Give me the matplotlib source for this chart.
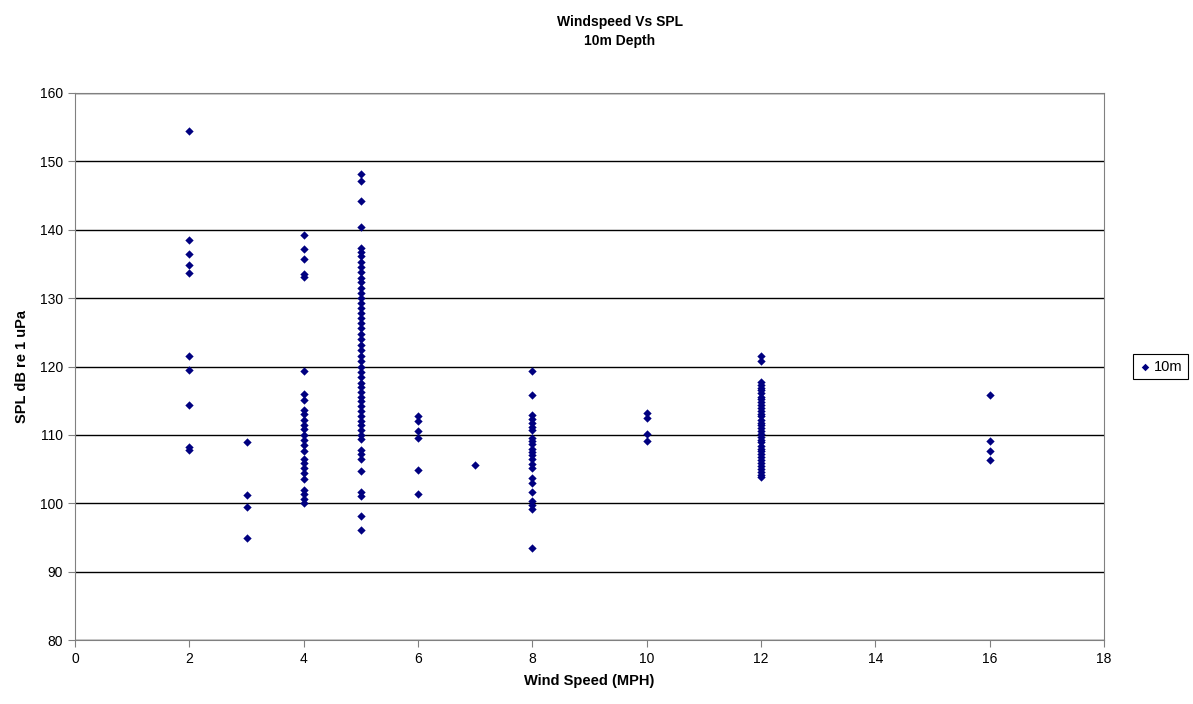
import matplotlib.pyplot as plt

plt.rcParams['font.family'] = ['Liberation Sans', 'DejaVu Sans']

# SPL readings (dB re 1 uPa) grouped by wind speed (MPH)
spl_2 = [154.5, 138.5, 136.4, 134.8, 133.7, 121.6, 119.5, 114.4, 108.3, 107.8]
spl_3 = [108.9, 101.2, 99.4, 94.9]
spl_4 = [139.3, 137.2, 135.7, 133.5, 133.1, 119.4, 116.0, 115.1, 113.7, 113.0,
         112.2, 111.5, 110.8, 110.0, 109.2, 108.5, 107.7, 106.5, 105.9, 105.2,
         104.4, 103.5, 102.0, 101.4, 100.6, 100.0]
spl_5 = [148.1, 147.1, 144.2, 140.4, 137.4, 136.8, 136.1, 135.3, 134.6, 133.8,
         133.0, 132.3, 131.5, 130.7, 130.0, 129.3, 128.6, 127.8, 127.1, 126.4,
         125.6, 124.8, 124.0, 123.2, 122.4, 121.6, 120.8, 120.0, 119.2, 118.4,
         117.6, 117.0, 116.3, 115.6, 114.9, 114.2, 113.5, 112.8, 112.1, 111.4,
         110.7, 110.0, 109.4, 107.8, 107.2, 106.5, 104.7, 101.6, 101.1, 98.1,
         96.1]
spl_6 = [112.8, 112.0, 110.6, 109.6, 104.9, 101.4]
spl_7 = [105.6]
spl_8 = [119.4, 115.8, 112.9, 112.3, 111.8, 111.2, 110.7, 109.6, 109.1, 108.6,
         108.0, 107.5, 107.0, 106.4, 105.8, 105.2, 103.7, 103.0, 101.7, 100.3,
         99.7, 99.1, 93.5]
spl_10 = [113.2, 112.5, 110.2, 109.1]
spl_12 = [121.6, 120.8, 117.8, 117.3, 116.9, 116.5, 116.1, 115.6, 115.2, 114.8,
          114.4, 113.9, 113.5, 113.1, 112.7, 112.2, 111.8, 111.4, 111.0, 110.6,
          110.1, 109.7, 109.3, 108.9, 108.4, 108.0, 107.6, 107.2, 106.7, 106.3,
          105.9, 105.5, 105.0, 104.6, 104.2, 103.8]
spl_16 = [115.8, 109.1, 107.6, 106.3]

groups = {2: spl_2, 3: spl_3, 4: spl_4, 5: spl_5, 6: spl_6, 7: spl_7,
          8: spl_8, 10: spl_10, 12: spl_12, 16: spl_16}

wind = []
spl = []
for ws, vals in groups.items():
    wind += [ws] * len(vals)
    spl += vals

fig = plt.figure(figsize=(11.93, 7.04), dpi=100)
ax = fig.add_axes([0.0629, 0.0909, 0.8625, 0.777])

ax.scatter(wind, spl, marker='D', s=18, color='#000080', linewidths=0,
           label='10m', zorder=3)

ax.set_xlim(0, 18)
ax.set_ylim(80, 160)
ax.set_xticks(range(0, 19, 2))
ax.set_yticks(range(80, 161, 10))
ax.grid(axis='y', color='black', linewidth=1)
ax.set_axisbelow(True)
for s in ax.spines.values():
    s.set_color('#808080')
ax.tick_params(direction='out', length=5, color='#808080', labelsize=10)

fig.text(0.5195, 0.978, 'Windspeed Vs SPL\n10m Depth', ha='center', va='top',
         fontsize=10, fontweight='bold', linespacing=1.4)
ax.set_xlabel('Wind Speed (MPH)', fontsize=10.5, fontweight='bold', labelpad=6)
ax.set_ylabel('SPL dB re 1 uPa', fontsize=10.5, fontweight='bold', labelpad=8)

leg = ax.legend(loc='center left', bbox_to_anchor=(1.028, 0.5), fontsize=10.5,
                fancybox=False, edgecolor='black', handletextpad=0.15,
                borderpad=0.4, borderaxespad=0, markerscale=0.9,
                handlelength=0.9, framealpha=1)
leg.get_frame().set_linewidth(0.8)

fig.savefig('out.png', dpi=100)
